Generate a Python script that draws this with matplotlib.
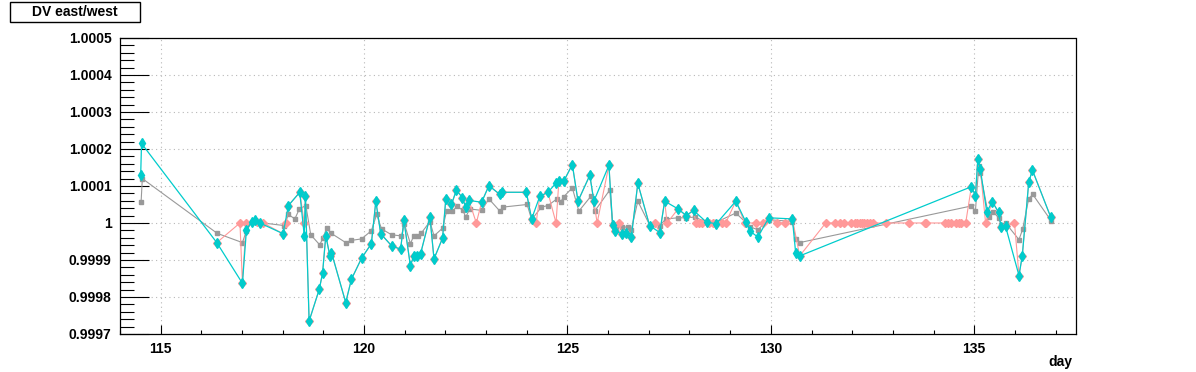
import numpy as np
import matplotlib
matplotlib.use('Agg')
import matplotlib.pyplot as plt
from matplotlib.ticker import MultipleLocator, FuncFormatter
from matplotlib.patches import Rectangle

plt.rcParams['font.family'] = ['Liberation Sans', 'DejaVu Sans']

# cyan series (diamonds)
cyan_day = [114.51, 114.53, 116.38, 117.01, 117.11, 117.24, 117.32, 117.44, 118.01, 118.14,
            118.42, 118.53, 118.56, 118.65, 118.90, 118.98, 119.06, 119.16, 119.20, 119.55,
            119.69, 119.94, 120.18, 120.29, 120.41, 120.68, 120.90, 120.98, 121.14, 121.22,
            121.30, 121.39, 121.62, 121.72, 121.93, 122.01, 122.15, 122.27, 122.42, 122.50,
            122.58, 122.89, 123.07, 123.34, 123.40, 123.99, 124.12, 124.32, 124.52, 124.73,
            124.79, 124.91, 125.12, 125.26, 125.55, 125.65, 126.02, 126.11, 126.16, 126.35,
            126.43, 126.57, 126.73, 127.02, 127.27, 127.39, 127.72, 127.92, 128.10, 128.42,
            128.66, 129.14, 129.38, 129.50, 129.68, 129.95, 130.53, 130.61, 130.71, 134.93,
            135.03, 135.09, 135.15, 135.31, 135.44, 135.60, 135.66, 135.77, 136.10, 136.18,
            136.34, 136.43, 136.88]
cyan_val = [1.000131, 1.000215, 0.999947, 0.999837, 0.999982, 1.000004, 1.000007, 1.0, 0.999971, 1.000047,
            1.000083, 0.999966, 1.000072, 0.999735, 0.999821, 0.999864, 0.999966, 0.999911, 0.999920, 0.999785,
            0.999848, 0.999905, 0.999944, 1.000059, 0.999971, 0.999938, 0.999929, 1.000007, 0.999884, 0.999911,
            0.999911, 0.999917, 1.000016, 0.999903, 0.999959, 1.000065, 1.000050, 1.000089, 1.000068, 1.000042,
            1.000061, 1.000056, 1.000101, 1.000077, 1.000083, 1.000083, 1.000011, 1.000072, 1.000083, 1.000109,
            1.000113, 1.000113, 1.000158, 1.000059, 1.000129, 1.000059, 1.000156, 0.999995, 0.999977, 0.999971,
            0.999974, 0.999962, 1.000107, 0.999993, 0.999974, 1.000059, 1.000038, 1.000020, 1.000034, 1.000002,
            0.999998, 1.000059, 1.000004, 0.999977, 0.999962, 1.000014, 1.000011, 0.999920, 0.999911, 1.000098,
            1.000074, 1.000174, 1.000145, 1.000029, 1.000058, 1.000029, 0.999989, 0.999991, 0.999858, 0.999910,
            1.000110, 1.000143, 1.000016]

# gray series (small squares)
gray_day = [114.52, 114.55, 116.39, 117.01, 117.11, 117.24, 117.32, 117.44, 118.04, 118.14,
            118.30, 118.41, 118.57, 118.69, 118.91, 118.99, 119.08, 119.18, 119.55, 119.69,
            119.94, 120.18, 120.31, 120.43, 120.68, 120.92, 120.99, 121.14, 121.22, 121.33,
            121.41, 121.62, 121.72, 121.93, 122.03, 122.17, 122.29, 122.43, 122.50, 122.60,
            122.89, 123.07, 123.34, 123.42, 124.01, 124.12, 124.36, 124.52, 124.74, 124.83,
            124.91, 125.12, 125.28, 125.59, 125.67, 126.04, 126.11, 126.19, 126.35, 126.49,
            126.57, 126.73, 127.02, 127.27, 127.42, 127.72, 127.92, 128.13, 128.42, 128.66,
            129.14, 129.38, 129.50, 129.68, 129.95, 130.53, 130.61, 130.71, 134.93, 135.03,
            135.11, 135.15, 135.36, 135.46, 135.60, 135.66, 135.77, 136.10, 136.19, 136.34,
            136.44, 136.89]
gray_val = [1.000058, 1.000120, 0.999972, 0.999947, 0.999979, 1.000002, 1.000005, 1.000001, 0.999993, 1.000023,
            1.000011, 1.000038, 1.000047, 0.999968, 0.999941, 0.999959, 0.999986, 0.999973, 0.999947, 0.999953,
            0.999957, 0.999979, 1.000023, 0.999984, 0.999968, 0.999965, 0.999998, 0.999944, 0.999965, 0.999965,
            0.999973, 1.000004, 0.999965, 0.999986, 1.000032, 1.000032, 1.000045, 1.000034, 1.000016, 1.000038,
            1.000034, 1.000065, 1.000032, 1.000043, 1.000050, 1.000009, 1.000043, 1.000047, 1.000065, 1.000056,
            1.000071, 1.000095, 1.000032, 1.000074, 1.000032, 1.000089, 0.999998, 0.999986, 0.999989, 0.999989,
            0.999982, 1.000059, 0.999995, 0.999993, 1.000011, 1.000014, 1.000014, 1.000016, 1.000002, 1.000002,
            1.000027, 1.000002, 0.999989, 0.999982, 1.000009, 1.000004, 0.999957, 0.999947, 1.000046, 1.000033,
            1.000153, 1.000135, 1.000016, 1.000031, 1.000014, 0.999995, 1.000000, 0.999955, 0.999983, 1.000066,
            1.000077, 1.000006]

# pink series (diamonds, sits at 1 where no measurement)
pink_day = [116.38, 116.95, 117.01, 117.10, 117.36, 117.52, 118.01, 118.08, 118.14, 118.42,
            118.53, 118.56, 118.65, 118.90, 118.98, 119.06, 119.16, 119.20, 119.55, 119.69,
            119.94, 120.18, 120.29, 120.41, 120.68, 120.90, 120.98, 121.14, 121.22, 121.30,
            121.39, 121.62, 121.72, 121.93, 122.01, 122.15, 122.27, 122.42, 122.50, 122.58,
            122.76, 122.89, 123.07, 123.34, 123.40, 123.99, 124.12, 124.23, 124.32, 124.52,
            124.72, 124.79, 124.91, 125.12, 125.26, 125.55, 125.65, 125.73, 126.02, 126.11,
            126.16, 126.27, 126.35, 126.43, 126.57, 126.73, 127.02, 127.15, 127.27, 127.39,
            127.45, 127.72, 127.92, 128.10, 128.16, 128.23, 128.32, 128.42, 128.48, 128.58,
            128.66, 128.81, 128.89, 129.14, 129.36, 129.64, 129.81, 129.95, 130.14, 130.36,
            130.53, 130.71, 131.35, 131.57, 131.69, 131.79, 131.98, 132.06, 132.12, 132.18,
            132.25, 132.30, 132.36, 132.43, 132.51, 132.82, 133.39, 133.78, 133.82, 134.27,
            134.35, 134.43, 134.56, 134.62, 134.68, 134.79, 134.93, 135.03, 135.09, 135.15,
            135.28, 135.44, 135.60, 135.66, 135.77, 135.99, 136.10, 136.18, 136.34, 136.43,
            136.88]
pink_val = [0.999947, 1.0, 0.999837, 1.0, 1.000004, 1.0, 0.999971, 1.0, 1.000047, 1.000083,
            1.0, 1.000072, 0.999735, 0.999821, 0.999864, 0.999966, 0.999911, 0.999920, 0.999785, 0.999848,
            0.999905, 0.999944, 1.000059, 0.999971, 0.999938, 0.999929, 1.000007, 0.999884, 0.999911, 0.999911,
            0.999917, 1.000016, 0.999903, 0.999959, 1.000065, 1.000050, 1.000089, 1.000068, 1.000042, 1.000061,
            1.0, 1.000056, 1.000101, 1.000077, 1.000083, 1.000083, 1.000011, 1.0, 1.000072, 1.000083,
            1.0, 1.000113, 1.000113, 1.000158, 1.000059, 1.000129, 1.000059, 1.0, 1.000156, 0.999995,
            0.999977, 1.0, 0.999971, 0.999974, 0.999962, 1.000107, 0.999993, 1.0, 0.999974, 1.000059,
            1.0, 1.000038, 1.000020, 1.000034, 1.0, 1.0, 1.0, 1.000002, 1.0, 1.0,
            0.999998, 1.0, 1.0, 1.000059, 1.0, 1.0, 1.0, 1.000014, 1.0, 1.0,
            1.000011, 0.999911, 1.0, 1.0, 1.0, 1.0, 1.0, 1.0, 1.0, 1.0,
            1.0, 1.0, 1.0, 1.0, 1.0, 1.0, 1.0, 1.0, 1.0, 1.0,
            1.0, 1.0, 1.0, 1.0, 1.0, 1.0, 1.000098, 1.000074, 1.000174, 1.000145,
            1.0, 1.000058, 1.000029, 0.999989, 0.999991, 1.0, 0.999858, 0.999910, 1.000110, 1.000143,
            1.000016]

x_ticks = [115, 120, 125, 130, 135]

fig = plt.figure(figsize=(11.96, 3.72), dpi=100)
ax = fig.add_axes([0.1003, 0.1022, 0.7993, 0.7957])

ax.plot(gray_day, gray_val, color='#999999', lw=0.8, marker='s', ms=2.4, mec='#999999', zorder=3)
ax.plot(pink_day, pink_val, color='#ff9999', lw=0.8, marker='D', ms=3.6, mec='#ff9999', zorder=4)
ax.plot(cyan_day, cyan_val, color='#00cccc', lw=0.9, marker='d', ms=5, mec='#00cccc', zorder=5)

ax.set_xlim(114.0, 137.5)
ax.set_ylim(0.9997, 1.0005)

ax.xaxis.set_major_locator(MultipleLocator(5))
ax.xaxis.set_minor_locator(MultipleLocator(1))
ax.set_xticks(x_ticks)
ax.yaxis.set_major_locator(MultipleLocator(0.0001))
ax.yaxis.set_minor_locator(MultipleLocator(0.00002))


def fmt(v, pos):
    s = '%.4f' % v
    return s.rstrip('0').rstrip('.')


ax.yaxis.set_major_formatter(FuncFormatter(fmt))

ax.tick_params(axis='y', which='major', direction='in', length=21, width=0.8, pad=6,
               labelsize=10, right=False)
ax.tick_params(axis='y', which='minor', direction='in', length=10, width=0.8, right=False)
ax.tick_params(axis='x', which='major', direction='in', length=6.5, width=0.8, pad=6,
               labelsize=10, top=False)
ax.tick_params(axis='x', which='minor', direction='in', length=3.2, width=0.8, top=False)
for lab in ax.get_xticklabels() + ax.get_yticklabels():
    lab.set_fontweight('bold')

ax.grid(True, which='major', color='#b8b8b8', lw=0.8, ls=(0, (1, 3)))
ax.set_axisbelow(True)
for s in ax.spines.values():
    s.set_linewidth(0.9)
    s.set_color('black')
ax.spines['top'].set_linestyle((0, (2, 1)))

fig.text(0.897, 0.027, 'day', ha='right', va='center', fontsize=10, fontweight='bold')

fig.patches.append(Rectangle((10 / 1196, 1 - 22 / 372), 130 / 1196, 20 / 372,
                             transform=fig.transFigure, fill=True, fc='white',
                             ec='black', lw=1))
fig.text(75 / 1196, 1 - 12 / 372, 'DV east/west', ha='center', va='center',
         fontsize=10, fontweight='bold')

fig.savefig('out.png', dpi=100)
